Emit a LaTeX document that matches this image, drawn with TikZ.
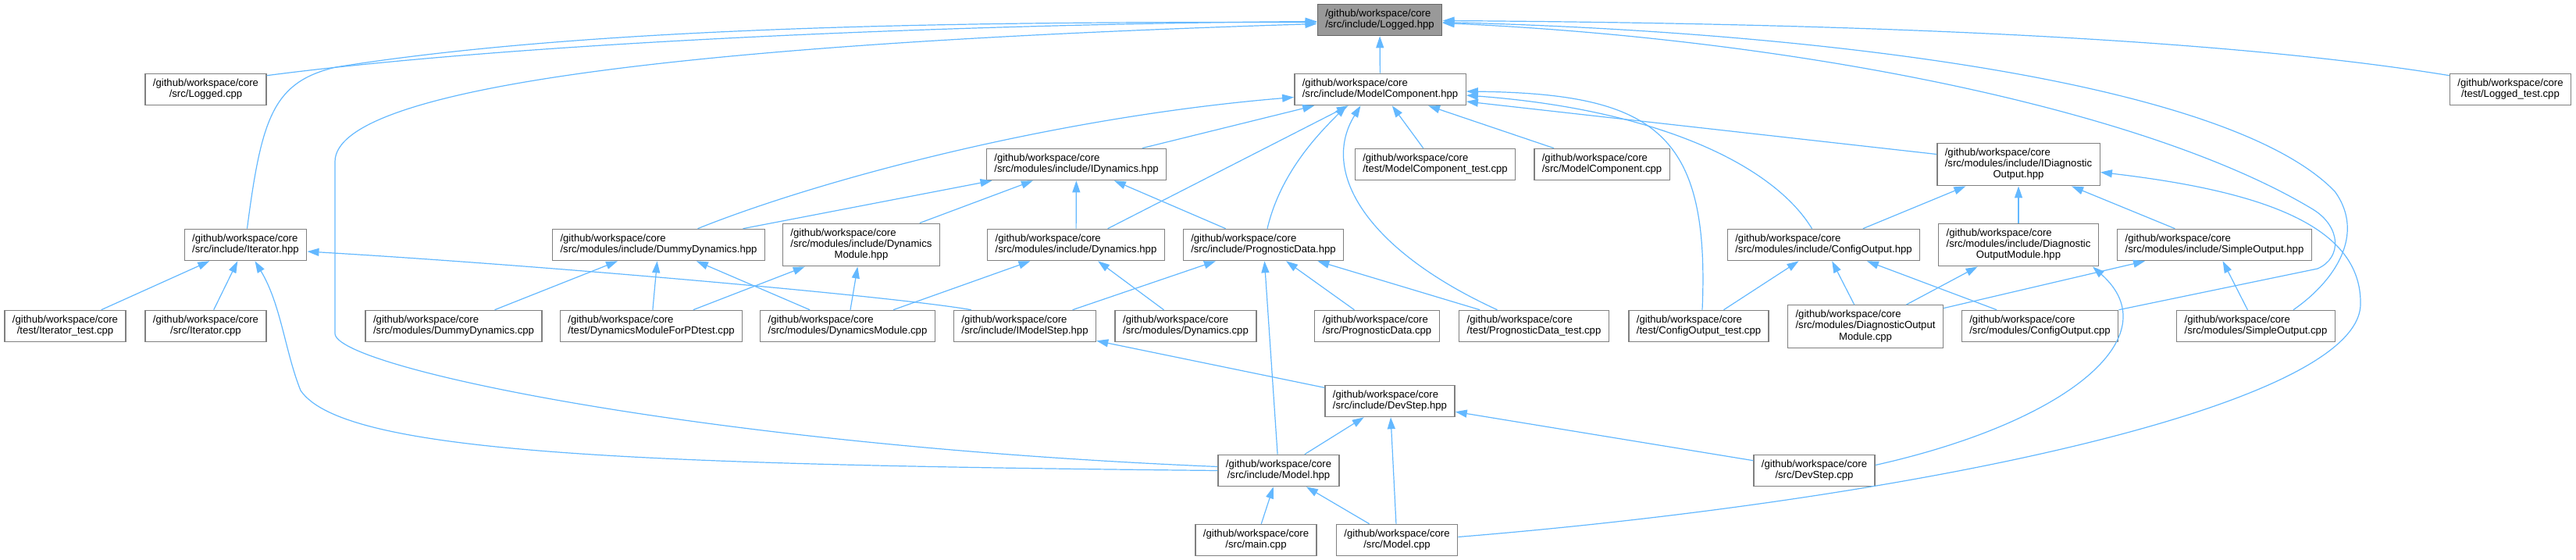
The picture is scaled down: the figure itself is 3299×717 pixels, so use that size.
\documentclass[tikz,border=0pt]{standalone}
\usepackage{fontspec}
\setmainfont{Liberation Sans}
\usetikzlibrary{positioning, arrows.meta, calc}

\definecolor{edgeblue}{HTML}{63B8FF}
\definecolor{rootfill}{HTML}{999999}
\definecolor{rootdraw}{HTML}{666666}
\definecolor{filedraw}{HTML}{808080}

% two and three line file labels (last line centred)
\newcommand{\pathlab}[1]{\begin{tabular}{@{}l@{}}/github/workspace/core\\\multicolumn{1}{@{}c@{}}{#1}\end{tabular}}
\newcommand{\pathlabb}[2]{\begin{tabular}{@{}l@{}}/github/workspace/core\\#1\\\multicolumn{1}{@{}c@{}}{#2}\end{tabular}}

\begin{document}
\begin{tikzpicture}[
    x=0.5pt, y=-0.5pt,
    % Files
    file/.style={
        rectangle, draw=filedraw, fill=white, line width=0.7pt,
        inner xsep=5pt, inner ysep=2.9pt,
        font=\fontsize{6.57pt}{7.15pt}\selectfont
    },
    root/.style={file, draw=rootdraw, fill=rootfill},
    % Include arrows
    incl/.style={
        draw=edgeblue, line width=0.6pt,
        -{Triangle[length=7.5pt, width=5pt]}
    }
]
    \useasboundingbox (0,0) rectangle (3299,717);

    % --- ROW 0 / 1 ---
    \node[root] (logHpp) at (1767,25.5) {\pathlab{/src/include/Logged.hpp}};
    \node[file] (logCpp) at (263.5,114.5) {\pathlab{/src/Logged.cpp}};
    \node[file] (mcHpp) at (1767.5,114.5) {\pathlab{/src/include/ModelComponent.hpp}};
    \node[file] (logTest) at (3215,114.5) {\pathlab{/test/Logged\_test.cpp}};

    % --- ROW 2 ---
    \node[file] (idynHpp) at (1378.5,210.5) {\pathlab{/src/modules/include/IDynamics.hpp}};
    \node[file] (mcTest) at (1838,210.5) {\pathlab{/test/ModelComponent\_test.cpp}};
    \node[file] (mcCpp) at (2051.5,210.5) {\pathlab{/src/ModelComponent.cpp}};
    \node[file] (idiagHpp) at (2585,210.5) {\pathlabb{/src/modules/include/IDiagnostic}{Output.hpp}};

    % --- ROW 3 ---
    \node[file] (iterHpp) at (314.5,313.5) {\pathlab{/src/include/Iterator.hpp}};
    \node[file] (dummyHpp) at (843.5,313.5) {\pathlab{/src/modules/include/DummyDynamics.hpp}};
    \node[file] (dynmodHpp) at (1103,313.5) {\pathlabb{/src/modules/include/Dynamics}{Module.hpp}};
    \node[file] (dynHpp) at (1378,313.5) {\pathlab{/src/modules/include/Dynamics.hpp}};
    \node[file] (progHpp) at (1618,313.5) {\pathlab{/src/include/PrognosticData.hpp}};
    \node[file] (cfgHpp) at (2335.5,313.5) {\pathlab{/src/modules/include/ConfigOutput.hpp}};
    \node[file] (diagmodHpp) at (2585,313.5) {\pathlabb{/src/modules/include/Diagnostic}{OutputModule.hpp}};
    \node[file] (simpleHpp) at (2836,313.5) {\pathlab{/src/modules/include/SimpleOutput.hpp}};

    % --- ROW 4 ---
    \node[file] (iterTest) at (83.5,417.5) {\pathlab{/test/Iterator\_test.cpp}};
    \node[file] (iterCpp) at (263.5,417.5) {\pathlab{/src/Iterator.cpp}};
    \node[file] (dummyCpp) at (581,417.5) {\pathlab{/src/modules/DummyDynamics.cpp}};
    \node[file] (pdTest) at (834,417.5) {\pathlab{/test/DynamicsModuleForPDtest.cpp}};
    \node[file] (dynmodCpp) at (1085.5,417.5) {\pathlab{/src/modules/DynamicsModule.cpp}};
    \node[file] (imstepHpp) at (1312.5,417.5) {\pathlab{/src/include/IModelStep.hpp}};
    \node[file] (dynCpp) at (1518.5,417.5) {\pathlab{/src/modules/Dynamics.cpp}};
    \node[file] (progCpp) at (1763.5,417.5) {\pathlab{/src/PrognosticData.cpp}};
    \node[file] (progTest) at (1964.5,417.5) {\pathlab{/test/PrognosticData\_test.cpp}};
    \node[file] (cfgTest) at (2175.5,417.5) {\pathlab{/test/ConfigOutput\_test.cpp}};
    \node[file] (diagmodCpp) at (2389,418) {\pathlabb{/src/modules/DiagnosticOutput}{Module.cpp}};
    \node[file] (cfgCpp) at (2612.5,417.5) {\pathlab{/src/modules/ConfigOutput.cpp}};
    \node[file] (simpleCpp) at (2889,417.5) {\pathlab{/src/modules/SimpleOutput.cpp}};

    % --- ROWS 5 - 7 ---
    \node[file] (devHpp) at (1780,513.5) {\pathlab{/src/include/DevStep.hpp}};
    \node[file] (modelHpp) at (1637.5,602.5) {\pathlab{/src/include/Model.hpp}};
    \node[file] (devCpp) at (2323.5,602.5) {\pathlab{/src/DevStep.cpp}};
    \node[file] (mainCpp) at (1608.5,691.5) {\pathlab{/src/main.cpp}};
    \node[file] (modelCpp) at (1789,691.5) {\pathlab{/src/Model.cpp}};

    % --- INCLUDES OF Logged.hpp ---
    \draw[incl] (mcHpp) -- (logHpp);
    \draw[incl] ($(logCpp.north east)+(0,3)$) .. controls (700,50) and (1300,30) .. ($(logHpp.west)+(0,2)$);
    \draw[incl] ($(iterHpp.north)+(2,0)$) .. controls (335,150) and (350,105) .. (430,86)
        .. controls (780,30) and (1300,28) .. ($(logHpp.west)+(0,3)$);
    \draw[incl] ($(modelHpp.west)+(0,-5)$) .. controls (900,570) and (429,470) .. (429,427)
        -- (429,207) .. controls (429,110) and (900,55) .. ($(logHpp.west)+(0,5)$);
    \draw[incl] ($(logTest.north west)+(0,3)$) .. controls (2850,50) and (2400,30) .. ($(logHpp.east)+(0,1)$);
    \draw[incl] (cfgCpp.north east) -- (2968,344) .. controls (3000,330) and (2998,290) .. (2962,268)
        .. controls (2750,140) and (2300,50) .. ($(logHpp.east)+(0,4)$);
    \draw[incl] ($(simpleCpp.north)+(48,0)$) .. controls (2990,360) and (3030,300) .. (2990,245)
        .. controls (2850,100) and (2300,40) .. ($(logHpp.east)+(0,3)$);

    % --- INCLUDES OF ModelComponent.hpp ---
    \draw[incl] (idynHpp) -- (mcHpp);
    \draw[incl] ($(dummyHpp.north)+(50,0)$) .. controls (1050,230) and (1350,150) .. ($(mcHpp.west)+(0,10)$);
    \draw[incl] (dynHpp) -- (mcHpp);
    \draw[incl] ($(progHpp.north)+(5,0)$) .. controls (1640,220) and (1690,170) .. ($(mcHpp.south)+(-43,0)$);
    \draw[incl] ($(progTest.north)+(-47,0)$) .. controls (1750,320) and (1690,220) .. ($(mcHpp.south)+(-25,0)$);
    \draw[incl] (mcTest) -- (mcHpp);
    \draw[incl] (mcCpp) -- (mcHpp);
    \draw[incl] ($(cfgTest.north)+(4.5,0)$) .. controls (2190,170) and (2120,120) .. ($(mcHpp.east)+(0,2.5)$);
    \draw[incl] ($(cfgHpp.north)+(-15,0)$) .. controls (2270,210) and (2120,140) .. ($(mcHpp.east)+(0,7.5)$);
    \draw[incl] ($(idiagHpp.west)+(0,-13)$) -- ($(mcHpp.east)+(0,15.5)$);

    % --- INCLUDES OF IDynamics.hpp ---
    \foreach \src in {dummyHpp, dynmodHpp, dynHpp, progHpp} {
        \draw[incl] (\src) -- (idynHpp);
    }

    % --- INCLUDES OF IDiagnosticOutput.hpp ---
    \foreach \src in {cfgHpp, diagmodHpp, simpleHpp} {
        \draw[incl] (\src) -- (idiagHpp);
    }
    \draw[incl] ($(modelCpp.east)+(0,-4)$) .. controls (2450,640) and (3020,520) .. (3023,390)
        .. controls (3025,290) and (2900,245) .. ($(idiagHpp.east)+(0,10)$);

    % --- INCLUDES OF Iterator.hpp ---
    \draw[incl] (iterTest) -- (iterHpp);
    \draw[incl] (iterCpp) -- (iterHpp);
    \draw[incl] (modelHpp.west) .. controls (800,595) and (440,580) .. (385,500)
        .. controls (365,450) and (360,390) .. ($(iterHpp.south)+(12,0)$);
    \draw[incl] ($(imstepHpp.north west)+(23,0)$) .. controls (1150,380) and (700,340) .. ($(iterHpp.east)+(0,8.5)$);

    % --- INCLUDES OF THE DYNAMICS HEADERS ---
    \foreach \src in {dummyCpp, pdTest, dynmodCpp} {
        \draw[incl] (\src) -- (dummyHpp);
    }
    \draw[incl] (pdTest) -- (dynmodHpp);
    \draw[incl] (dynmodCpp) -- (dynmodHpp);
    \draw[incl] (dynmodCpp) -- (dynHpp);
    \draw[incl] (dynCpp) -- (dynHpp);
    \foreach \src in {imstepHpp, modelHpp, progCpp, progTest} {
        \draw[incl] (\src) -- (progHpp);
    }

    % --- INCLUDES OF THE OUTPUT HEADERS ---
    \foreach \src in {cfgTest, diagmodCpp, cfgCpp} {
        \draw[incl] (\src) -- (cfgHpp);
    }
    \draw[incl] (diagmodCpp) -- (diagmodHpp);
    \draw[incl] ($(devCpp.east)+(0,-7)$) .. controls (2650,540) and (2780,430) .. ($(diagmodHpp.south)+(95,0)$);
    \draw[incl] (diagmodCpp) -- (simpleHpp);
    \draw[incl] (simpleCpp) -- (simpleHpp);

    % --- MODEL STEPS ---
    \draw[incl] (devHpp) -- (imstepHpp);
    \foreach \src in {modelHpp, modelCpp, devCpp} {
        \draw[incl] (\src) -- (devHpp);
    }
    \draw[incl] (mainCpp) -- (modelHpp);
    \draw[incl] (modelCpp) -- (modelHpp);

\end{tikzpicture}
\end{document}
